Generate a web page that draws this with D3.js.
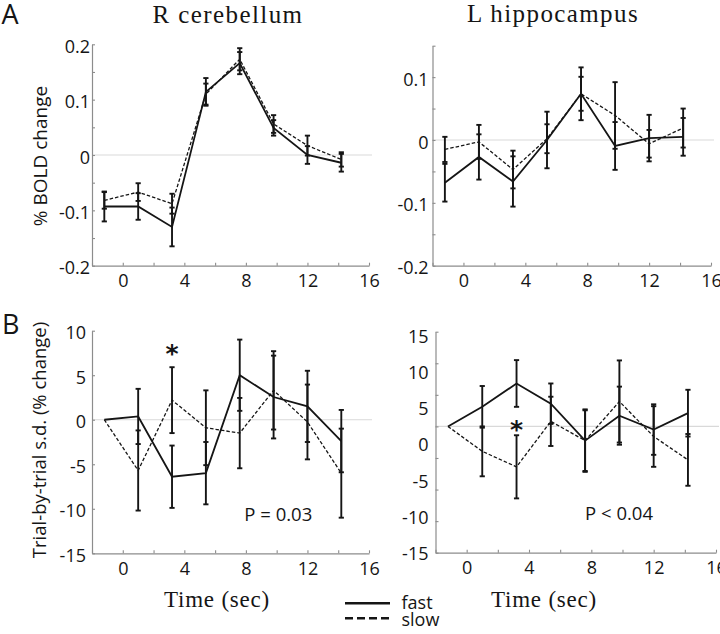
<!DOCTYPE html>
<html><head><meta charset="utf-8">
<script src="https://cdn.jsdelivr.net/npm/d3@7"></script>
<style>body{margin:0;background:#fff}svg{display:block}</style>
</head><body><svg id="c" width="720" height="634"></svg>
<script>
// ---------- data ----------
const times = [-1.2, 1.0, 3.2, 5.4, 7.6, 9.8, 12.0, 14.2];
const xTickValues = [-2, 0, 2, 4, 6, 8, 10, 12, 14, 16];
const xTickLabels = [0, 4, 8, 12, 16];
const seriesNames = ["fast", "slow"];
const regionNames = ["R cerebellum", "L hippocampus"];

// A: % BOLD change
const cbBoldFast    = [-0.093, -0.093, -0.130, 0.114, 0.166, 0.049, 0.000, -0.014];
const cbBoldFastErr = [0.027, 0.024, 0.035, 0.025, 0.020, 0.014, 0.016, 0.016];
const cbBoldSlow    = [-0.082, -0.067, -0.088, 0.110, 0.173, 0.056, 0.017, -0.008];
const cbBoldSlowErr = [0.015, 0.016, 0.018, 0.019, 0.020, 0.016, 0.018, 0.013];

const hcBoldFast    = [-0.068, -0.027, -0.066, 0.000, 0.0735, -0.0095, 0.003, 0.005];
const hcBoldFastErr = [0.030, 0.036, 0.040, 0.045, 0.042, 0.038, 0.037, 0.030];
const hcBoldSlow    = [-0.015, -0.003, -0.047, 0.002, 0.0735, 0.039, -0.006, 0.019];
const hcBoldSlowErr = [0.020, 0.027, 0.030, 0.023, 0.027, 0.053, 0.022, 0.031];

// B: trial-by-trial s.d. (% change)
const cbSdFast    = [0, 0.37, -6.4, -6.0, 5.0, 2.55, 1.5, -2.4];
const cbSdFastErr = [0, 3.1, 3.5, 3.5, 4.0, 4.65, 4.0, 3.5];
const cbSdSlow    = [0, -5.7, 2.2, -0.9, -1.5, 3.3, -0.25, -6.0];
const cbSdSlowErr = [0, 4.5, 3.7, 4.2, 3.95, 4.4, 4.2, 5.0];

const hcSdFast    = [0, 3.1, 6.8, 3.6, -2.25, 1.7, -0.5, 2.1];
const hcSdFastErr = [0, 3.3, 3.7, 3.2, 4.95, 4.6, 4.0, 3.7];
const hcSdSlow    = [0, -3.95, -6.4, 0.8, -2.25, 3.95, -1.6, -5.3];
const hcSdSlowErr = [0, 3.95, 5.0, 3.9, 4.8, 6.5, 4.8, 4.1];

const boldTickLabels = [-0.2, -0.1, 0, 0.1, 0.2];
const sdTickLabels = [-15, -10, -5, 0, 5, 10, 15];
const pValueLabels = ["P = 0.03", "P < 0.04"];
const sigTime = 3.2;

// ---------- drawing ----------
const svg = d3.select("#c");
const SANS = "'Open Sans', 'DejaVu Sans', sans-serif";
const SERIF = "'Liberation Serif', serif";
const AXIS = "#8c8c8c";
const INK = "#151515";

const panels = [
  {left: 92, right: 369, top: 44.3, bottom: 265.7, yDomain: [-0.2, 0.2],
   yTicks: d3.range(-4, 5).map(k => k * 0.05), yLabels: boldTickLabels.filter(v => v <= 0.2),
   fmt: d => d === 0 ? "0" : d.toFixed(1), pad: 2,
   fast: cbBoldFast, fastErr: cbBoldFastErr, slow: cbBoldSlow, slowErr: cbBoldSlowErr},
  {left: 432.5, right: 711, top: 45.7, bottom: 265.7, yDomain: [-0.2, 0.15],
   yTicks: d3.range(-4, 4).map(k => k * 0.05), yLabels: boldTickLabels.filter(v => v <= 0.1),
   fmt: d => d === 0 ? "0" : d.toFixed(1), pad: 4,
   fast: hcBoldFast, fastErr: hcBoldFastErr, slow: hcBoldSlow, slowErr: hcBoldSlowErr},
  {left: 92, right: 369, top: 330.7, bottom: 553.3, yDomain: [-15, 10],
   yTicks: d3.range(-15, 11, 5), yLabels: sdTickLabels.filter(v => v <= 10),
   fmt: d => String(d), pad: 6,
   fast: cbSdFast, fastErr: cbSdFastErr, slow: cbSdSlow, slowErr: cbSdSlowErr,
   star: 7.9, pText: pValueLabels[0], pAt: [7.9, -11.4]},
  {left: 435.5, right: 716, top: 331.7, bottom: 552.7, yDomain: [-20, 15],
   yTicks: d3.range(-20, 16, 5), yLabels: sdTickLabels,
   labelDomain: [-15, 15], labelRange: [551.3, 334.3],
   fmt: d => String(d), pad: 7,
   fast: hcSdFast, fastErr: hcSdFastErr, slow: hcSdSlow, slowErr: hcSdSlowErr,
   star: 0.2, pText: pValueLabels[1], pAt: [7.6, -14.9]}
];

panels.forEach(p => {
  const x = d3.scaleLinear().domain([-2, 16]).range([p.left, p.right]);
  const y = d3.scaleLinear().domain(p.yDomain).range([p.bottom, p.top]);
  const yLab = p.labelDomain ? d3.scaleLinear().domain(p.labelDomain).range(p.labelRange) : y;
  const g = svg.append("g");

  // zero reference line
  g.append("line").attr("x1", p.left).attr("x2", p.right + 3)
    .attr("y1", y(0)).attr("y2", y(0))
    .attr("stroke", "#d9d9d9").attr("stroke-width", 1.2);

  // x axis (ticks inward)
  const xa = g.append("g").attr("transform", `translate(0,${p.bottom})`)
    .call(d3.axisBottom(x).tickValues(xTickValues).tickSizeInner(-3).tickSizeOuter(0).tickFormat(""));
  const xl = g.append("g").attr("transform", `translate(0,${p.bottom})`)
    .call(d3.axisBottom(x).tickValues(xTickLabels).tickSize(0).tickPadding(8.5).tickFormat(d => String(d)));
  xl.select(".domain").remove();

  // y axis
  const ya = g.append("g").attr("transform", `translate(${p.left},0)`)
    .call(d3.axisLeft(y).tickValues(p.yTicks).tickSizeInner(-3).tickSizeOuter(0).tickFormat(""));
  const yl = g.append("g").attr("transform", `translate(${p.left},0)`)
    .call(d3.axisLeft(yLab).tickValues(p.yLabels).tickSize(0).tickPadding(p.pad).tickFormat(p.fmt));
  yl.select(".domain").remove();
  yl.selectAll("text").attr("dy", "0.45em");

  [xa, ya].forEach(a => {
    a.select(".domain").attr("stroke", AXIS).attr("stroke-width", 1.2);
    a.selectAll(".tick line").attr("stroke", AXIS).attr("stroke-width", 1.1);
  });
  [xl, yl].forEach(a => {
    a.attr("font-family", SANS).attr("font-size", 18);
    a.selectAll("text").attr("fill", INK);
  });

  const line = d3.line().x((d, i) => x(times[i])).y(d => y(d));

  // series lines
  g.append("path").datum(p.slow).attr("d", line).attr("fill", "none")
    .attr("stroke", INK).attr("stroke-width", 1.3).attr("stroke-dasharray", "3.5,2");
  g.append("path").datum(p.fast).attr("d", line).attr("fill", "none")
    .attr("stroke", INK).attr("stroke-width", 1.8);

  // error bars
  [[p.fast, p.fastErr], [p.slow, p.slowErr]].forEach(([vals, errs]) => {
    const eb = g.append("g").attr("stroke", INK).attr("stroke-width", 1.9);
    vals.forEach((v, i) => {
      const e = errs[i];
      if (!e) return;
      const cx = x(times[i]);
      eb.append("line").attr("x1", cx).attr("x2", cx).attr("y1", y(v - e)).attr("y2", y(v + e));
      [v - e, v + e].forEach(w => {
        eb.append("line").attr("x1", cx - 2.6).attr("x2", cx + 2.6).attr("y1", y(w)).attr("y2", y(w));
      });
    });
  });

  if (p.star !== undefined) {
    g.append("text").attr("x", x(sigTime)).attr("y", y(p.star) + 13)
      .attr("text-anchor", "middle").attr("font-family", "'DejaVu Sans', sans-serif")
      .attr("font-weight", "bold").attr("font-size", 25).attr("fill", INK).text("*");
    g.append("text").attr("x", x(p.pAt[0])).attr("y", y(p.pAt[1]))
      .attr("font-family", SANS).attr("font-size", 18.5).attr("fill", INK).text(p.pText);
  }
});

// titles
svg.append("text").attr("x", 228).attr("y", 23).attr("text-anchor", "middle")
  .attr("font-family", SERIF).attr("font-size", 25).attr("letter-spacing", 1.4)
  .attr("fill", INK).text(regionNames[0]);
svg.append("text").attr("x", 553).attr("y", 21.5).attr("text-anchor", "middle")
  .attr("font-family", SERIF).attr("font-size", 25).attr("letter-spacing", 1.4)
  .attr("fill", INK).text(regionNames[1]);

// panel letters
svg.append("text").attr("x", 1.5).attr("y", 23.5).attr("font-family", SANS)
  .attr("font-size", 27).attr("fill", INK).text("A");
svg.append("text").attr("x", 2).attr("y", 334).attr("font-family", SANS)
  .attr("font-size", 27).attr("fill", INK).text("B");

// y-axis titles
svg.append("text").attr("transform", "translate(47,156) rotate(-90)")
  .attr("text-anchor", "middle").attr("font-family", SANS).attr("font-size", 19)
  .attr("fill", INK).text("% BOLD change");
svg.append("text").attr("transform", "translate(46,440) rotate(-90)")
  .attr("text-anchor", "middle").attr("font-family", SANS).attr("font-size", 18.5)
  .attr("fill", INK).text("Trial-by-trial s.d. (% change)");

// x-axis titles
[217, 544].forEach(cx => {
  svg.append("text").attr("x", cx).attr("y", 607).attr("text-anchor", "middle")
    .attr("font-family", SERIF).attr("font-size", 23).attr("letter-spacing", 0.8)
    .attr("fill", INK).text("Time (sec)");
});

// legend
const leg = svg.append("g");
seriesNames.forEach((name, i) => {
  const ly = 603.3 + i * 15;
  leg.append("line").attr("x1", 345).attr("x2", 390).attr("y1", ly).attr("y2", ly)
    .attr("stroke", INK).attr("stroke-width", 2.6)
    .attr("stroke-dasharray", i === 1 ? "8,4" : null);
  leg.append("text").attr("x", 401.5).attr("y", ly + 6 + i * 2)
    .attr("font-family", SANS).attr("font-size", 18).attr("fill", INK).text(name);
});
</script>
</body></html>
